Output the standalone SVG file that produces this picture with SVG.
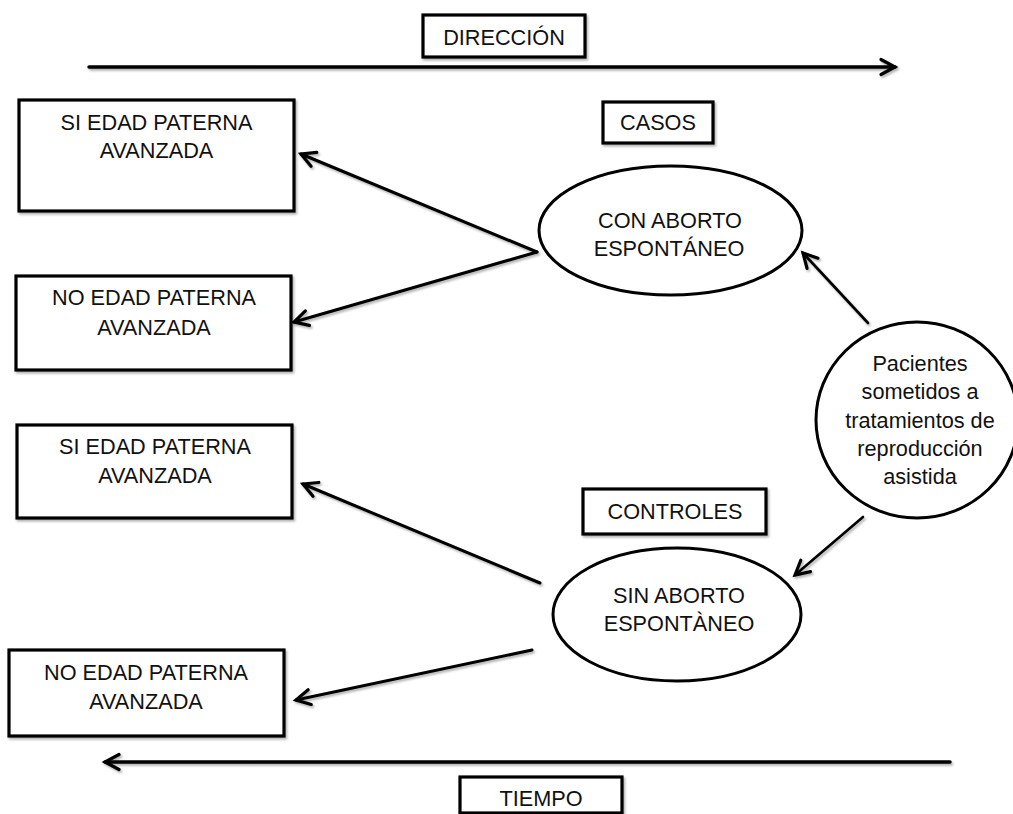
<svg xmlns="http://www.w3.org/2000/svg" width="1013" height="814" viewBox="0 0 1013 814">
  <style>
    .box { fill: #ffffff; stroke: #000; stroke-width: 3.2; }
    .shape { fill: #ffffff; stroke: #000; stroke-width: 3; }
    .lbl { font-family: "Liberation Sans", Arial, sans-serif; font-size: 21.7px; fill: #111; text-anchor: middle; }
    .conn { fill: none; stroke: #000; stroke-width: 3; stroke-linecap: round; }
    .thin { stroke-width: 2.6; }
    .axis { fill: none; stroke: #000; stroke-width: 3.5; stroke-linecap: round; }
  </style>
  <defs>
    <filter id="sh" x="-10%" y="-10%" width="130%" height="140%">
      <feDropShadow dx="1.5" dy="2" stdDeviation="1" flood-color="#000" flood-opacity="0.3"/>
    </filter>
    <marker id="ah" markerUnits="userSpaceOnUse" viewBox="-18 -10 22 20" refX="0" refY="0" markerWidth="22" markerHeight="20" orient="auto" overflow="visible">
      <path d="M-14,-7.5 L0,0 L-14,7.5" fill="none" stroke="#000" stroke-width="3.2" stroke-linecap="round" stroke-linejoin="miter"/>
    </marker>
  </defs>

  <g id="axes" filter="url(#sh)">
    <path class="axis" d="M89,67 L895,67" marker-end="url(#ah)"/>
    <path class="axis" d="M950,762 L105,762" marker-end="url(#ah)"/>
  </g>

  <g id="connectors" filter="url(#sh)">
    <path class="conn" d="M537,252 L301,154" marker-end="url(#ah)"/>
    <path class="conn" d="M537,252 L294,322" marker-end="url(#ah)"/>
    <path class="conn" d="M540,583 L303,484" marker-end="url(#ah)"/>
    <path class="conn" d="M532,650 L296,700" marker-end="url(#ah)"/>
    <path class="conn thin" d="M868,323 L803,253" marker-end="url(#ah)"/>
    <path class="conn thin" d="M863,517 L795,575" marker-end="url(#ah)"/>
  </g>

  <g id="direccion">
    <rect class="box" x="423" y="15" width="162" height="42" filter="url(#sh)"/>
    <text class="lbl" x="504" y="45">DIRECCIÓN</text>
  </g>

  <g id="si-edad-1">
    <rect class="box" x="19" y="100" width="275" height="111" filter="url(#sh)"/>
    <text class="lbl" x="156.5" y="130">SI EDAD PATERNA</text>
    <text class="lbl" x="156.5" y="158">AVANZADA</text>
  </g>

  <g id="casos">
    <rect class="box" x="603" y="102" width="110" height="41" filter="url(#sh)"/>
    <text class="lbl" x="658" y="130">CASOS</text>
  </g>

  <g id="con-aborto">
    <ellipse class="shape" cx="670.5" cy="230.5" rx="131.5" ry="64.5"/>
    <text class="lbl" x="670" y="228">CON ABORTO</text>
    <text class="lbl" x="669" y="256">ESPONTÁNEO</text>
  </g>

  <g id="no-edad-1">
    <rect class="box" x="16" y="276" width="275" height="94" filter="url(#sh)"/>
    <text class="lbl" x="154" y="305">NO EDAD PATERNA</text>
    <text class="lbl" x="154" y="335">AVANZADA</text>
  </g>

  <g id="pacientes">
    <ellipse class="shape" cx="917" cy="420" rx="101" ry="98"/>
    <text class="lbl" x="920" y="371">Pacientes</text>
    <text class="lbl" x="920" y="399">sometidos a</text>
    <text class="lbl" x="920" y="428">tratamientos de</text>
    <text class="lbl" x="920" y="456">reproducción</text>
    <text class="lbl" x="920" y="484">asistida</text>
  </g>

  <g id="si-edad-2">
    <rect class="box" x="17" y="425" width="275" height="93" filter="url(#sh)"/>
    <text class="lbl" x="155" y="454">SI EDAD PATERNA</text>
    <text class="lbl" x="155" y="483">AVANZADA</text>
  </g>

  <g id="controles">
    <rect class="box" x="583" y="489" width="183" height="45" filter="url(#sh)"/>
    <text class="lbl" x="675" y="519">CONTROLES</text>
  </g>

  <g id="sin-aborto">
    <ellipse class="shape" cx="677" cy="614.5" rx="124" ry="66.5"/>
    <text class="lbl" x="679" y="603">SIN ABORTO</text>
    <text class="lbl" x="679" y="631">ESPONTÀNEO</text>
  </g>

  <g id="no-edad-2">
    <rect class="box" x="9" y="650" width="275" height="86" filter="url(#sh)"/>
    <text class="lbl" x="146" y="680">NO EDAD PATERNA</text>
    <text class="lbl" x="146" y="709">AVANZADA</text>
  </g>

  <g id="tiempo">
    <rect class="box" x="460" y="777" width="162" height="36" filter="url(#sh)"/>
    <text class="lbl" x="541" y="806">TIEMPO</text>
  </g>
</svg>
